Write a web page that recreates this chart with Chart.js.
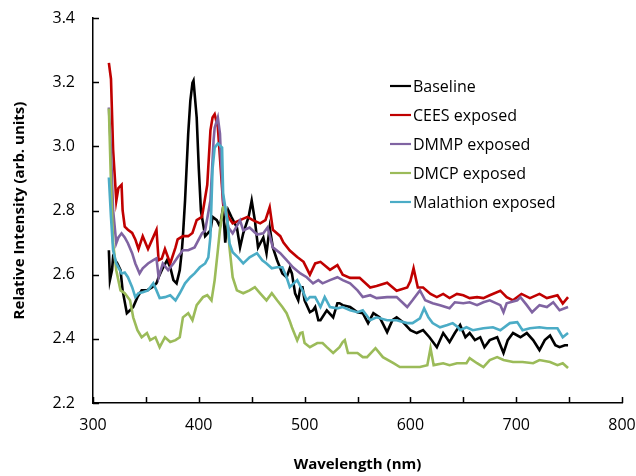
<!DOCTYPE html>
<html>
<head>
<meta charset="utf-8">
<script src="https://cdn.jsdelivr.net/npm/chart.js@4"></script>
<style>
  html, body { margin: 0; padding: 0; background: #fff; }
  #wrap { width: 636px; height: 476px; position: relative; }
</style>
</head>
<body>
<div id="wrap"><canvas id="c" width="636" height="476"></canvas></div>
<script>
// ---- Data ----
const seriesLabels = ["Baseline", "CEES exposed", "DMMP exposed", "DMCP exposed", "Malathion exposed"];
const xTickValues = [300, 400, 500, 600, 700, 800];
const yTickValues = [2.2, 2.4, 2.6, 2.8, 3.0, 3.2, 3.4];

const baselineNm = [315,316,318,319,323,326,328,332,335,338,342,346,351,356,360,362,365,370,373,376,379,382,384,385,387,390,392,394,395,398,400,402,406,411,413,417,420,423,425,428,431,436,439,442,447,450,453,456,461,464,467,470,474,479,483,486,488,491,494,496,498,500,505,508,510,513,515,521,527,531,533,536,543,550,555,560,565,571,578,583,587,593,600,606,612,618,625,631,637,642,647,652,656,661,666,670,675,682,688,692,697,704,710,716,722,727,732,737,741,746,749];
const baselineVal = [2.676,2.583,2.614,2.654,2.635,2.614,2.551,2.480,2.489,2.499,2.530,2.551,2.551,2.561,2.573,2.592,2.614,2.645,2.623,2.583,2.573,2.614,2.676,2.72,2.831,3.04,3.142,3.198,3.205,3.09,2.93,2.80,2.72,2.738,2.78,2.77,2.75,2.81,2.70,2.80,2.779,2.747,2.685,2.729,2.779,2.831,2.769,2.685,2.716,2.667,2.747,2.685,2.645,2.604,2.592,2.62,2.604,2.542,2.52,2.561,2.561,2.520,2.483,2.489,2.499,2.458,2.458,2.489,2.467,2.511,2.511,2.505,2.499,2.483,2.480,2.449,2.480,2.467,2.421,2.458,2.467,2.452,2.427,2.418,2.427,2.405,2.374,2.418,2.39,2.418,2.443,2.405,2.418,2.396,2.405,2.374,2.396,2.405,2.356,2.396,2.418,2.405,2.418,2.396,2.365,2.396,2.41,2.38,2.374,2.38,2.38];

const ceesNm = [315,317,319,322,324,327,328,330,333,337,340,343,347,352,356,360,362,365,368,373,378,380,385,390,394,398,403,408,411,413,415,418,422,423,428,432,439,446,451,458,463,467,470,477,480,486,493,499,505,510,515,524,531,536,543,552,562,568,578,587,597,600,603,607,612,619,625,631,637,644,650,656,663,669,675,685,691,697,705,713,722,729,739,744,749];
const ceesVal = [3.26,3.21,2.99,2.83,2.87,2.88,2.80,2.75,2.74,2.73,2.71,2.68,2.72,2.68,2.71,2.74,2.645,2.65,2.68,2.635,2.685,2.71,2.72,2.72,2.73,2.77,2.78,2.88,3.05,3.09,3.10,3.06,2.87,2.82,2.78,2.76,2.77,2.78,2.77,2.76,2.77,2.81,2.74,2.72,2.70,2.675,2.655,2.64,2.60,2.635,2.64,2.615,2.63,2.60,2.59,2.59,2.56,2.565,2.575,2.55,2.56,2.58,2.62,2.56,2.56,2.54,2.53,2.54,2.527,2.54,2.536,2.527,2.53,2.527,2.536,2.55,2.53,2.52,2.54,2.527,2.54,2.527,2.536,2.51,2.53];

const dmmpNm = [315,317,319,322,324,327,330,333,337,340,344,347,352,357,360,362,366,371,376,380,385,390,396,403,406,411,414,415,418,420,421,423,428,432,439,442,448,455,461,465,470,477,483,489,496,502,508,513,517,524,531,536,543,550,555,562,568,578,587,597,602,609,614,621,628,637,642,650,656,663,669,675,685,688,691,701,704,710,715,722,729,735,741,749];
const dmmpVal = [3.121,2.987,2.801,2.698,2.716,2.729,2.716,2.698,2.667,2.635,2.604,2.620,2.635,2.645,2.651,2.592,2.635,2.614,2.635,2.654,2.676,2.676,2.685,2.729,2.738,2.831,3.02,3.058,3.09,3.04,2.96,2.83,2.747,2.729,2.769,2.738,2.747,2.725,2.729,2.747,2.685,2.667,2.645,2.623,2.604,2.592,2.573,2.583,2.573,2.583,2.592,2.583,2.573,2.551,2.530,2.536,2.527,2.530,2.530,2.499,2.520,2.551,2.520,2.511,2.505,2.495,2.514,2.511,2.514,2.505,2.514,2.520,2.505,2.483,2.511,2.520,2.530,2.505,2.483,2.505,2.499,2.514,2.489,2.499];

const dmcpNm = [315,317,319,322,326,330,335,338,342,346,351,354,359,363,368,373,378,382,385,390,394,398,404,408,412,415,418,420,423,425,427,429,432,436,442,448,453,458,464,469,474,479,483,486,488,493,496,498,500,505,512,517,521,527,533,536,538,541,550,555,559,567,574,584,590,600,609,616,619,622,631,637,644,653,656,663,669,675,682,688,697,706,716,722,732,739,744,749];
const dmcpVal = [3.118,2.884,2.698,2.614,2.551,2.542,2.520,2.467,2.427,2.405,2.418,2.396,2.405,2.374,2.405,2.390,2.396,2.405,2.467,2.480,2.458,2.505,2.530,2.536,2.520,2.583,2.676,2.74,2.81,2.81,2.769,2.685,2.592,2.551,2.542,2.551,2.561,2.542,2.520,2.542,2.520,2.499,2.480,2.455,2.436,2.395,2.418,2.42,2.387,2.374,2.387,2.387,2.374,2.356,2.374,2.39,2.396,2.356,2.356,2.343,2.343,2.371,2.343,2.324,2.312,2.312,2.312,2.318,2.371,2.318,2.324,2.318,2.324,2.324,2.340,2.324,2.312,2.334,2.343,2.334,2.328,2.328,2.324,2.334,2.328,2.318,2.324,2.309];

const malathionNm = [315,317,319,322,324,327,330,333,337,340,343,347,352,357,360,363,368,373,378,382,387,392,396,401,406,409,411,413,415,418,422,423,427,429,432,437,442,448,455,460,464,469,474,479,483,486,493,498,502,505,510,515,519,524,531,536,543,550,555,562,568,578,587,597,602,609,613,617,621,628,635,640,645,647,653,659,669,678,685,694,701,706,713,722,729,739,744,749];
const malathionVal = [2.903,2.779,2.676,2.635,2.623,2.604,2.607,2.592,2.561,2.530,2.542,2.545,2.551,2.573,2.551,2.527,2.530,2.536,2.520,2.542,2.573,2.592,2.604,2.623,2.635,2.654,2.72,2.93,2.996,3.009,2.996,2.853,2.769,2.698,2.67,2.654,2.635,2.654,2.667,2.645,2.635,2.62,2.623,2.623,2.592,2.561,2.583,2.551,2.520,2.530,2.530,2.499,2.530,2.499,2.495,2.499,2.489,2.483,2.489,2.458,2.467,2.458,2.458,2.449,2.449,2.464,2.495,2.467,2.449,2.436,2.443,2.449,2.436,2.427,2.436,2.427,2.433,2.436,2.427,2.449,2.452,2.427,2.433,2.436,2.433,2.433,2.405,2.418];

const seriesColors = ["#000000", "#C00000", "#8064A2", "#9BBB59", "#4BACC6"];

// ---- Build chart ----
function pts(nm, val) { return nm.map((x, i) => ({ x: x, y: val[i] })); }
const allNm = [baselineNm, ceesNm, dmmpNm, dmcpNm, malathionNm];
const allVal = [baselineVal, ceesVal, dmmpVal, dmcpVal, malathionVal];

const datasets = seriesLabels.map((lab, i) => ({
  label: lab,
  data: pts(allNm[i], allVal[i]),
  borderColor: seriesColors[i],
  backgroundColor: seriesColors[i],
  borderWidth: 2.6,
  pointRadius: 0,
  tension: 0,
  fill: false
})).reverse();

const FONT = "'Open Sans', sans-serif";

const innerTicks = {
  id: 'innerTicks',
  afterDraw(chart) {
    const { ctx, chartArea: a, scales: { x, y } } = chart;
    ctx.save();
    ctx.strokeStyle = '#000';
    ctx.lineWidth = 1.5;
    ctx.beginPath();
    for (let v = 300; v <= 800; v += 50) {
      const px = Math.round(x.getPixelForValue(v)) + 0.5;
      ctx.moveTo(px, a.bottom);
      ctx.lineTo(px, a.bottom - 6);
    }
    yTickValues.forEach(v => {
      const py = Math.round(y.getPixelForValue(v)) + 0.5;
      ctx.moveTo(a.left, py);
      ctx.lineTo(a.left + 6, py);
    });
    ctx.stroke();
    ctx.restore();
  }
};

const customLegend = {
  id: 'customLegend',
  afterDraw(chart) {
    const { ctx } = chart;
    ctx.save();
    ctx.font = "16px " + FONT;
    ctx.textBaseline = 'middle';
    ctx.textAlign = 'left';
    seriesLabels.forEach((lab, i) => {
      const yy = 86 + i * 29;
      ctx.strokeStyle = seriesColors[i];
      ctx.lineWidth = 2.2;
      ctx.beginPath();
      ctx.moveTo(390, yy);
      ctx.lineTo(411, yy);
      ctx.stroke();
      ctx.fillStyle = '#000';
      ctx.fillText(lab, 413, yy + 1);
    });
    ctx.restore();
  }
};

function zeroPad(s) { s.paddingLeft = 0; s.paddingRight = 0; s.paddingTop = 0; s.paddingBottom = 0; }

new Chart(document.getElementById('c'), {
  type: 'line',
  data: { datasets: datasets },
  options: {
    responsive: false,
    animation: false,
    devicePixelRatio: 1,
    layout: { padding: { top: 18, right: 14, left: 0, bottom: 0 } },
    plugins: {
      legend: { display: false },
      tooltip: { enabled: false }
    },
    scales: {
      x: {
        type: 'linear',
        min: 300, max: 800,
        afterBuildTicks: s => { s.ticks = xTickValues.map(v => ({ value: v })); },
        afterFit: s => { s.height = 73; zeroPad(s); },
        grid: { display: false, drawTicks: false },
        border: { display: true, color: '#000', width: 1.5 },
        ticks: { padding: 13, color: '#000', font: { family: FONT, size: 16 }, maxRotation: 0 },
        title: { display: true, text: 'Wavelength (nm)', color: '#000', font: { family: FONT, size: 15, weight: 'bold' }, padding: { top: 4, bottom: 2 } }
      },
      y: {
        type: 'linear',
        min: 2.2, max: 3.4,
        afterBuildTicks: s => { s.ticks = yTickValues.map(v => ({ value: v })); },
        afterFit: s => { s.width = 93; zeroPad(s); },
        grid: { display: false, drawTicks: false },
        border: { display: true, color: '#000', width: 1.5 },
        ticks: { padding: 18, color: '#000', font: { family: FONT, size: 16 }, callback: v => Number(v).toFixed(1) },
        title: { display: true, text: 'Relative Intensity (arb. units)', color: '#000', font: { family: FONT, size: 15, weight: 'bold' }, padding: { top: 11, bottom: 0 } }
      }
    }
  },
  plugins: [innerTicks, customLegend]
});
</script>
</body>
</html>
